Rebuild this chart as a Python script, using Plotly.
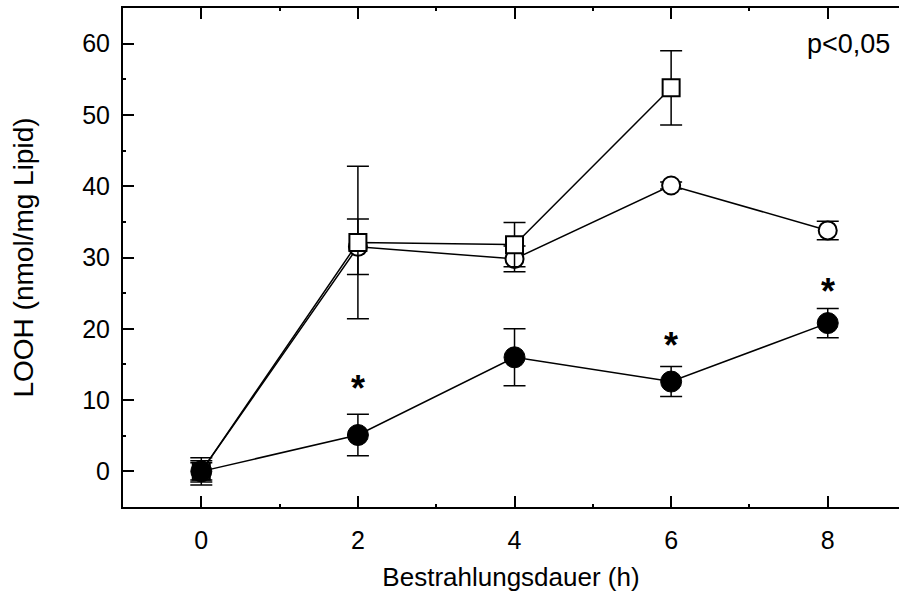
import plotly.graph_objects as go

# Data
hours = [0, 2, 4, 6, 8]

filled_mean = [0.0, 5.1, 16.0, 12.6, 20.8]
filled_err = [1.9, 2.9, 4.0, 2.1, 2.05]

open_circle_mean = [0.0, 31.5, 29.8, 40.1, 33.8]
open_circle_err = [1.2, 3.9, 1.8, 0.5, 1.3]

square_hours = [0, 2, 4, 6]
square_mean = [0.0, 32.1, 31.8, 53.8]
square_err = [1.5, 10.7, 3.1, 5.2]

star_hours = [2, 6, 8]
star_y = [11.6, 17.6, 25.2]

x_ticks = [0, 2, 4, 6, 8]
y_ticks = [0, 10, 20, 30, 40, 50, 60]

FONT = "Liberation Sans, Arial, sans-serif"

fig = go.Figure()

def err(vals):
    return dict(type="data", array=vals, visible=True, color="black", thickness=1.5, width=11)

fig.add_trace(go.Scatter(
    x=hours, y=open_circle_mean, error_y=err(open_circle_err), mode="lines+markers",
    line=dict(color="black", width=1.5),
    marker=dict(symbol="circle", size=18, color="white", line=dict(color="black", width=2)),
    showlegend=False))

fig.add_trace(go.Scatter(
    x=square_hours, y=square_mean, error_y=err(square_err), mode="lines+markers",
    line=dict(color="black", width=1.5),
    marker=dict(symbol="square", size=17, color="white", line=dict(color="black", width=2)),
    showlegend=False))

fig.add_trace(go.Scatter(
    x=hours, y=filled_mean, error_y=err(filled_err), mode="lines+markers",
    line=dict(color="black", width=1.5),
    marker=dict(symbol="circle", size=21, color="black", line=dict(color="black", width=1)),
    showlegend=False))

for xh, yv in zip(star_hours, star_y):
    fig.add_annotation(x=xh, y=yv, text="<b>*</b>", showarrow=False,
                       font=dict(family=FONT, size=36, color="black"),
                       xanchor="center", yanchor="middle")

fig.add_annotation(x=1, xref="x domain", y=60, yref="y", text="p<0,05", showarrow=False,
                   font=dict(family=FONT, size=27, color="black"),
                   xanchor="right", yanchor="middle", xshift=-7)

fig.update_layout(
    width=899, height=595,
    margin=dict(l=123, r=0, t=8, b=88),
    paper_bgcolor="white", plot_bgcolor="white",
    font=dict(family=FONT, size=24, color="black"),
    xaxis=dict(
        range=[-1, 8.91], tickvals=x_ticks, ticktext=[str(v) for v in x_ticks],
        showgrid=False, zeroline=False,
        showline=True, linecolor="black", linewidth=2, mirror="allticks",
        ticks="inside", ticklen=11, tickwidth=1.5, tickcolor="black",
        minor=dict(dtick=1, tick0=1, ticks="inside", ticklen=3, tickwidth=1.5, tickcolor="black", showgrid=False),
        ticklabelstandoff=10,
        tickfont=dict(family=FONT, size=25),
        title=dict(text="Bestrahlungsdauer (h)", font=dict(family=FONT, size=26), standoff=15),
    ),
    yaxis=dict(
        range=[-5, 65], tickvals=y_ticks, ticktext=[str(v) for v in y_ticks],
        showgrid=False, zeroline=False,
        showline=True, linecolor="black", linewidth=2, mirror=False,
        ticks="inside", ticklen=11, tickwidth=1.5, tickcolor="black",
        minor=dict(dtick=5, tick0=5, ticks="inside", ticklen=3, tickwidth=1.5, tickcolor="black", showgrid=False),
        ticklabelstandoff=6,
        tickfont=dict(family=FONT, size=25),
        title=dict(text="LOOH (nmol/mg Lipid)", font=dict(family=FONT, size=28), standoff=40),
    ),
    yaxis2=dict(
        overlaying="y", side="right", matches="y", range=[-5, 65], tickvals=y_ticks,
        showgrid=False, zeroline=False, showline=False, showticklabels=False,
        ticks="inside", ticklen=4, tickwidth=1.5, tickcolor="black",
    ),
)

fig.write_html("out.html")
